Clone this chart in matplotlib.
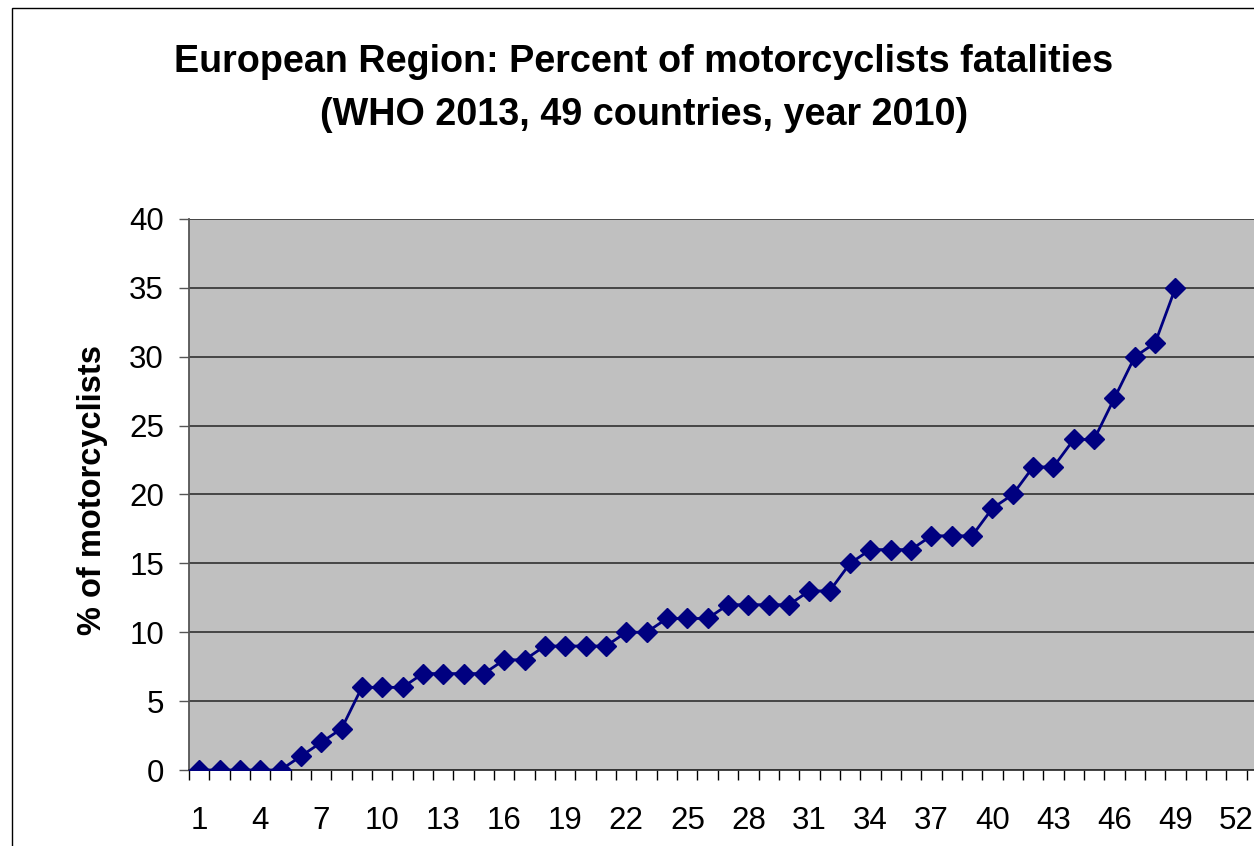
import matplotlib
matplotlib.use("Agg")
import matplotlib.pyplot as plt
from matplotlib.patches import Rectangle
from matplotlib.ticker import FixedLocator

plt.rcParams['font.family'] = ['Liberation Sans', 'DejaVu Sans']

title_line1 = "European Region: Percent of motorcyclists fatalities"
title_line2 = "(WHO 2013, 49 countries, year 2010)"
y_label = "% of motorcyclists"

countries = list(range(1, 50))
percent = [0, 0, 0, 0, 0, 1, 2, 3, 6, 6,
           6, 7, 7, 7, 7, 8, 8, 9, 9, 9,
           9, 10, 10, 11, 11, 11, 12, 12, 12, 12,
           13, 13, 15, 16, 16, 16, 17, 17, 17, 19,
           20, 22, 22, 24, 24, 27, 30, 31, 35]
x_tick_labels = list(range(1, 53, 3))
y_ticks = [0, 5, 10, 15, 20, 25, 30, 35, 40]

W, H = 1254, 846
fig = plt.figure(figsize=(W / 100, H / 100), dpi=100)
fig.patch.set_facecolor('white')

# figure border (partially cropped at right/bottom)
fig.patches.append(Rectangle((12 / W, -0.2), 2.0, (1 - 8 / H) + 0.2,
                             transform=fig.transFigure, fill=False,
                             edgecolor='black', linewidth=1.0))

left_px, right_px, bottom_px, top_px = 189, 1267, 770, 219
ax = fig.add_axes([left_px / W, 1 - bottom_px / H,
                   (right_px - left_px) / W, (bottom_px - top_px) / H])
ax.set_facecolor('#C0C0C0')

ax.plot(countries, percent, color='#000080', linewidth=2.0,
        marker='D', markersize=10.5, markerfacecolor='#000080',
        markeredgecolor='#000080', zorder=3)

ax.set_xlim(0.5, 53.5)
ax.set_ylim(0, 40)

ax.set_yticks(y_ticks)
ax.set_yticklabels([str(v) for v in y_ticks], fontsize=22.5)
ax.yaxis.grid(True, color='#3c3c3c', linewidth=1.3)
ax.set_axisbelow(True)

ax.set_xticks(x_tick_labels)
ax.set_xticklabels([str(v) for v in x_tick_labels], fontsize=22.5)
ax.xaxis.set_minor_locator(FixedLocator([i + 0.5 for i in range(0, 54)]))
ax.tick_params(axis='x', which='major', length=0, pad=26)
ax.tick_params(axis='x', which='minor', length=7, width=1.0, color='black', direction='out')
ax.tick_params(axis='y', which='major', length=7, width=1.0, color='#555555', pad=11)

for s in ['top', 'right']:
    ax.spines[s].set_visible(False)
ax.spines['left'].set_color('#555555')
ax.spines['left'].set_linewidth(1.3)
ax.spines['bottom'].set_color('#333333')
ax.spines['bottom'].set_linewidth(1.3)

fig.text(644 / W, 1 - 62 / H, title_line1, ha='center', va='center',
         fontsize=27.2, fontweight='bold')
fig.text(644 / W, 1 - 115 / H, title_line2, ha='center', va='center',
         fontsize=27.2, fontweight='bold')
fig.text(93 / W, 1 - 490 / H, y_label, ha='center', va='center',
         rotation=90, fontsize=23.5, fontweight='bold')

fig.savefig('out.png', dpi=100)
